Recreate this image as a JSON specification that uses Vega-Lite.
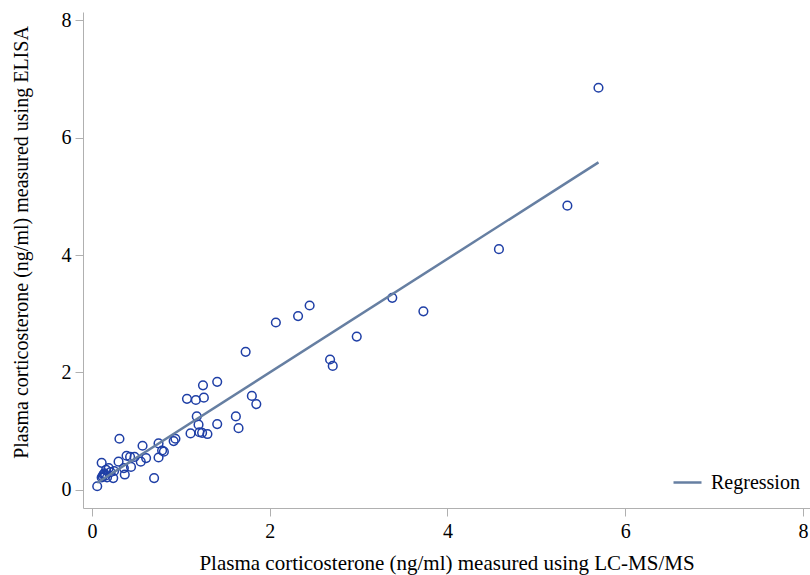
{
  "$schema": "https://vega.github.io/schema/vega-lite/v6.json",
  "width": 727,
  "height": 496,
  "autosize": {"type": "none"},
  "padding": {"left": 83, "top": 12, "right": 0, "bottom": 67},
  "background": "white",
  "config": {
    "view": {"stroke": null},
    "font": "Liberation Serif",
    "axis": {
      "grid": false,
      "domainColor": "#b0b0b0",
      "tickColor": "#b0b0b0",
      "tickSize": 8,
      "labelFont": "Liberation Serif",
      "titleFont": "Liberation Serif",
      "labelFontSize": 20,
      "titleFontSize": 20,
      "titleFontWeight": "normal",
      "labelColor": "#000000",
      "titleColor": "#000000"
    }
  },
  "data": {
    "values": [
      {"lcms": 0.06, "elisa": 0.06},
      {"lcms": 0.11, "elisa": 0.46},
      {"lcms": 0.11, "elisa": 0.21},
      {"lcms": 0.12, "elisa": 0.23},
      {"lcms": 0.13, "elisa": 0.26},
      {"lcms": 0.14, "elisa": 0.28},
      {"lcms": 0.15, "elisa": 0.24},
      {"lcms": 0.17, "elisa": 0.21},
      {"lcms": 0.16, "elisa": 0.34},
      {"lcms": 0.19, "elisa": 0.37},
      {"lcms": 0.21, "elisa": 0.30},
      {"lcms": 0.24, "elisa": 0.20},
      {"lcms": 0.25, "elisa": 0.32},
      {"lcms": 0.30, "elisa": 0.48},
      {"lcms": 0.31, "elisa": 0.87},
      {"lcms": 0.36, "elisa": 0.37},
      {"lcms": 0.37, "elisa": 0.26},
      {"lcms": 0.39, "elisa": 0.58},
      {"lcms": 0.44, "elisa": 0.39},
      {"lcms": 0.43, "elisa": 0.56},
      {"lcms": 0.48, "elisa": 0.56},
      {"lcms": 0.55, "elisa": 0.48},
      {"lcms": 0.57, "elisa": 0.75},
      {"lcms": 0.61, "elisa": 0.54},
      {"lcms": 0.70, "elisa": 0.20},
      {"lcms": 0.75, "elisa": 0.79},
      {"lcms": 0.75, "elisa": 0.55},
      {"lcms": 0.79, "elisa": 0.67},
      {"lcms": 0.81, "elisa": 0.65},
      {"lcms": 0.92, "elisa": 0.83},
      {"lcms": 0.94, "elisa": 0.87},
      {"lcms": 1.07, "elisa": 1.55},
      {"lcms": 1.11, "elisa": 0.96},
      {"lcms": 1.17, "elisa": 1.53},
      {"lcms": 1.18, "elisa": 1.25},
      {"lcms": 1.20, "elisa": 1.11},
      {"lcms": 1.21, "elisa": 0.98},
      {"lcms": 1.24, "elisa": 0.97},
      {"lcms": 1.25, "elisa": 1.78},
      {"lcms": 1.26, "elisa": 1.57},
      {"lcms": 1.30, "elisa": 0.95},
      {"lcms": 1.41, "elisa": 1.84},
      {"lcms": 1.41, "elisa": 1.12},
      {"lcms": 1.62, "elisa": 1.25},
      {"lcms": 1.65, "elisa": 1.05},
      {"lcms": 1.73, "elisa": 2.35},
      {"lcms": 1.80, "elisa": 1.60},
      {"lcms": 1.85, "elisa": 1.46},
      {"lcms": 2.07, "elisa": 2.85},
      {"lcms": 2.32, "elisa": 2.96},
      {"lcms": 2.45, "elisa": 3.14},
      {"lcms": 2.68, "elisa": 2.22},
      {"lcms": 2.71, "elisa": 2.11},
      {"lcms": 2.98, "elisa": 2.61},
      {"lcms": 3.38, "elisa": 3.27},
      {"lcms": 3.73, "elisa": 3.04},
      {"lcms": 4.58, "elisa": 4.10},
      {"lcms": 5.35, "elisa": 4.84},
      {"lcms": 5.70, "elisa": 6.85}
    ]
  },
  "layer": [
    {
      "mark": {"type": "point", "shape": "circle", "filled": false, "size": 75, "strokeWidth": 1.5, "color": "#1f3fa6", "opacity": 1},
      "encoding": {
        "x": {
          "field": "lcms", "type": "quantitative",
          "scale": {"domain": [-0.1, 8.08], "nice": false, "zero": false},
          "axis": {"values": [0, 2, 4, 6, 8], "format": "d", "labelFlush": false, "title": "Plasma corticosterone (ng/ml) measured using LC-MS/MS", "titleFontSize": 21, "labelPadding": 5, "titlePadding": 11}
        },
        "y": {
          "field": "elisa", "type": "quantitative",
          "scale": {"domain": [-0.31, 8.14], "nice": false, "zero": false},
          "axis": {"values": [0, 2, 4, 6, 8], "format": "d", "labelFlush": false, "title": "Plasma corticosterone (ng/ml) measured using ELISA", "labelPadding": 4, "titlePadding": 30, "titleY": 230}
        }
      }
    },
    {
      "transform": [
        {"regression": "elisa", "on": "lcms"},
        {"calculate": "'Regression'", "as": "series"}
      ],
      "mark": {"type": "line", "strokeWidth": 2.5},
      "encoding": {
        "x": {"field": "lcms", "type": "quantitative"},
        "y": {"field": "elisa", "type": "quantitative"},
        "color": {
          "field": "series", "type": "nominal",
          "scale": {"range": ["#667fa2"]},
          "legend": {
            "title": null,
            "orient": "none",
            "legendX": 589,
            "legendY": 455,
            "padding": 0,
            "symbolType": "stroke",
            "symbolSize": 784,
            "symbolStrokeWidth": 2.5,
            "labelFont": "Liberation Serif",
            "labelFontSize": 20,
            "labelColor": "#000000",
            "labelOffset": 8
          }
        }
      }
    }
  ]
}
